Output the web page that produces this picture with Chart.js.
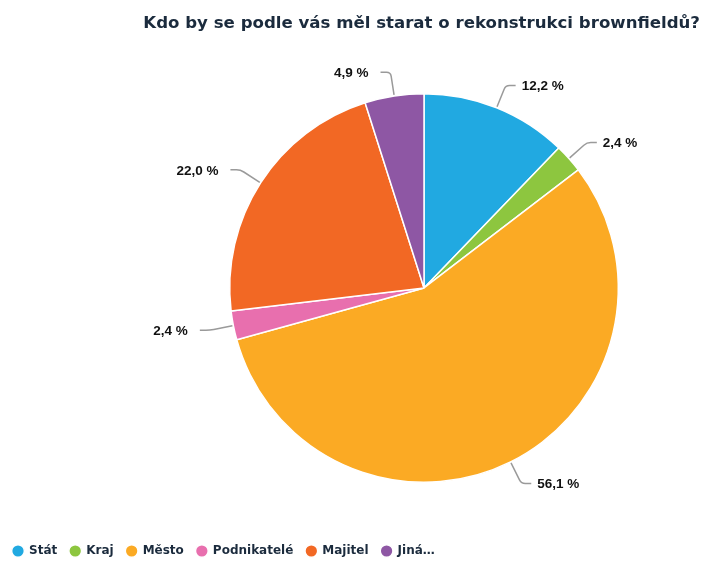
<!DOCTYPE html>
<html>
<head>
<meta charset="utf-8">
<script src="https://cdn.jsdelivr.net/npm/chart.js@4"></script>
<style>
  html, body { margin: 0; padding: 0; background: #fff; }
  #wrap { width: 703px; height: 561px; }
</style>
</head>
<body>
<div id="wrap"><canvas id="myChart" width="703" height="561"></canvas></div>
<script>
// Answers to the survey question, in percent.
var categories = ['Stát', 'Kraj', 'Město', 'Podnikatelé', 'Majitel', 'Jiná…'];
var shares = [12.2, 2.4, 56.1, 2.4, 22.0, 4.9];
var sliceColors = ['#21a9e1', '#8dc63f', '#fbaa24', '#e86fae', '#f26824', '#8e57a4'];

var titleText = 'Kdo by se podle vás měl starat o rekonstrukci brownfieldů?';

// Push the pie to the right and up, leaving the legend row alone.
var pieFrame = {
  id: 'pieFrame',
  afterLayout: function (chart) {
    var a = chart.chartArea;
    a.left = 148;
    a.bottom = 483;
    a.width = a.right - a.left;
    a.height = a.bottom - a.top;
    chart.legend.top += 6;
    chart.legend.bottom += 6;
  }
};

// Percent labels outside the pie, with a small bent leader line.
var outsideLabels = {
  id: 'outsideLabels',
  afterDatasetsDraw: function (chart) {
    var ctx = chart.ctx;
    var meta = chart.getDatasetMeta(0);
    ctx.save();
    meta.data.forEach(function (arc, i) {
      var p = arc.getProps(['x', 'y', 'startAngle', 'endAngle', 'outerRadius'], true);
      var mid = (p.startAngle + p.endAngle) / 2;
      var cos = Math.cos(mid), sin = Math.sin(mid);
      var side = cos >= 0 ? 1 : -1;
      var x0 = p.x + cos * (p.outerRadius + 1), y0 = p.y + sin * (p.outerRadius + 1);
      var x1 = p.x + cos * (p.outerRadius + 24), y1 = p.y + sin * (p.outerRadius + 24);
      var x2 = x1 + side * 10;
      ctx.beginPath();
      ctx.moveTo(x0, y0);
      ctx.lineTo(x1 - cos * 4, y1 - sin * 4);
      ctx.quadraticCurveTo(x1, y1, x1 + side * 4, y1);
      ctx.lineTo(x2, y1);
      ctx.strokeStyle = '#9a9a9a';
      ctx.lineWidth = 1.5;
      ctx.stroke();

      var txt = shares[i].toFixed(1).replace('.', ',') + ' %';
      ctx.font = 'bold 13.5px "Liberation Sans", Arial, sans-serif';
      ctx.fillStyle = '#111';
      ctx.textBaseline = 'middle';
      ctx.textAlign = side > 0 ? 'left' : 'right';
      ctx.fillText(txt, x2 + (side > 0 ? 6 : -12), y1 + 1);
    });
    ctx.restore();
  }
};

var ctx = document.getElementById('myChart');
var myChart = new Chart(ctx, {
  type: 'pie',
  data: {
    labels: categories,
    datasets: [{
      data: shares,
      backgroundColor: sliceColors,
      borderColor: '#ffffff',
      borderWidth: 1.5
    }]
  },
  options: {
    responsive: false,
    animation: false,
    layout: { padding: { left: 0, right: 3, top: 0, bottom: 0 } },
    plugins: {
      title: {
        display: true,
        text: titleText,
        align: 'end',
        color: '#1b2b3d',
        font: { family: '"DejaVu Sans", sans-serif', size: 16.6, weight: 'bold' },
        padding: { top: 14, bottom: 59 }
      },
      legend: {
        position: 'bottom',
        align: 'start',
        labels: {
          usePointStyle: true,
          pointStyle: 'circle',
          boxWidth: 10,
          boxHeight: 9,
          padding: 13,
          color: '#1b2b3d',
          font: { family: '"DejaVu Sans", sans-serif', size: 12, weight: 'bold' }
        }
      },
      tooltip: { enabled: false }
    }
  },
  plugins: [pieFrame, outsideLabels]
});
</script>
</body>
</html>
